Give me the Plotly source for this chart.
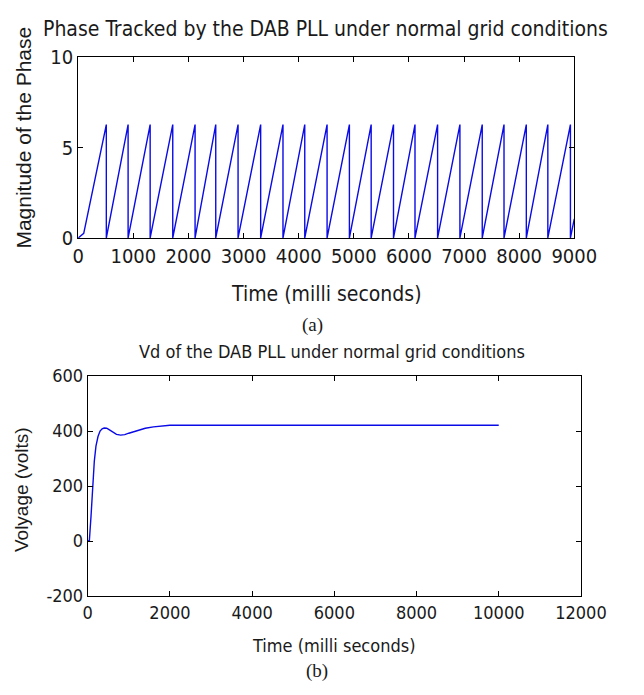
import plotly.graph_objects as go

W, H = 644, 695

# ---- (a) Phase tracked by the DAB PLL (sawtooth, wraps at 2*pi) ----
phase_time_ms = [0, 100, 510, 510, 905, 905, 1305, 1305, 1715, 1715, 2120, 2120,
                 2495, 2495, 2900, 2900, 3310, 3310, 3715, 3715, 4110, 4110,
                 4515, 4515, 4920, 4920, 5315, 5315, 5720, 5720, 6110, 6110,
                 6520, 6520, 6925, 6925, 7330, 7330, 7725, 7725, 8130, 8130,
                 8520, 8520, 8930, 8930, 9000]
phase_rad = [0, 0.25, 6.28, 0, 6.28, 0, 6.28, 0, 6.28, 0, 6.28, 0,
             6.28, 0, 6.28, 0, 6.28, 0, 6.28, 0, 6.28, 0,
             6.28, 0, 6.28, 0, 6.28, 0, 6.28, 0, 6.28, 0,
             6.28, 0, 6.28, 0, 6.28, 0, 6.28, 0, 6.28, 0,
             6.28, 0, 6.28, 0, 1.05]
phase_xticks = [0, 1000, 2000, 3000, 4000, 5000, 6000, 7000, 8000, 9000]
phase_yticks = [0, 5, 10]

# ---- (b) Vd of the DAB PLL ----
vd_time_ms = [0, 40, 80, 120, 160, 200, 250, 300, 350, 400, 460, 520, 600, 700,
              800, 900, 1000, 1200, 1400, 1600, 1800, 2000, 10000]
vd_volts = [0, 2, 90, 200, 290, 345, 380, 400, 408, 411, 410, 405, 396, 388,
            385, 387, 392, 402, 410, 415, 419, 421, 421]
vd_xticks = [0, 2000, 4000, 6000, 8000, 10000, 12000]
vd_yticks = [-200, 0, 200, 400, 600]

NARROW = "Liberation Sans Narrow, DejaVu Sans Condensed, Arial Narrow, Liberation Sans, sans-serif"
REG = "Liberation Sans, Arial, sans-serif"
SERIF = "Liberation Serif, Times New Roman, serif"
LINE = "#0a0ae6"
TXT = "#1a1a1a"

fig = go.Figure()
fig.add_trace(go.Scatter(x=phase_time_ms, y=phase_rad, mode="lines",
                         line=dict(color=LINE, width=1.4), xaxis="x", yaxis="y",
                         showlegend=False, hoverinfo="skip"))
fig.add_trace(go.Scatter(x=vd_time_ms, y=vd_volts, mode="lines",
                         line=dict(color=LINE, width=1.4), xaxis="x2", yaxis="y2",
                         showlegend=False, hoverinfo="skip"))

def ax(domain, rng, ticks, size, anchor):
    return dict(domain=domain, range=rng, tickvals=ticks, ticktext=[str(t) for t in ticks],
                showline=True, linecolor="black", linewidth=1, mirror="ticks",
                ticks="inside", ticklen=5, tickcolor="black", showgrid=False,
                zeroline=False, tickfont=dict(family=NARROW, size=size, color=TXT),
                anchor=anchor, fixedrange=True)

# pixel boxes
a_l, a_r, a_t, a_b = 76, 598, 47, 234
b_l, b_r, b_t, b_b = 86, 605, 377, 605

fig.update_layout(
    width=W, height=H, margin=dict(l=0, r=0, t=0, b=0),
    paper_bgcolor="white", plot_bgcolor="white",
    xaxis=ax([a_l / W, a_r / W], [0, 9000], phase_xticks, 20, "y"),
    yaxis=ax([1 - a_b / H, 1 - a_t / H], [0, 10], phase_yticks, 20, "x"),
    xaxis2=ax([b_l / W, b_r / W], [0, 12000], vd_xticks, 18, "y2"),
    yaxis2=ax([1 - b_b / H, 1 - b_t / H], [-200, 600], vd_yticks, 18, "x2"),
)

def note(text, x, y, size, family, angle=0):
    fig.add_annotation(text=text, x=x / W, y=1 - y / H, xref="paper", yref="paper",
                       showarrow=False, xanchor="center", yanchor="middle",
                       textangle=angle, font=dict(family=family, size=size, color=TXT))

note("Phase Tracked by the DAB PLL under normal grid conditions", 336, 18, 21, NARROW)
note("Magnitude of the Phase", 18, 130, 21, REG, -90)
note("Time (milli seconds)", 337, 292, 21, NARROW)
note("(a)", 322, 324, 19, SERIF)
note("Vd of the DAB PLL under normal grid conditions", 343, 352, 18, NARROW)
note("Volyage (volts)", 17, 495, 19, REG, -90)
note("Time (milli seconds)", 345, 656, 18, NARROW)
note("(b)", 327, 683, 19, SERIF)

fig.write_html("out.html")
